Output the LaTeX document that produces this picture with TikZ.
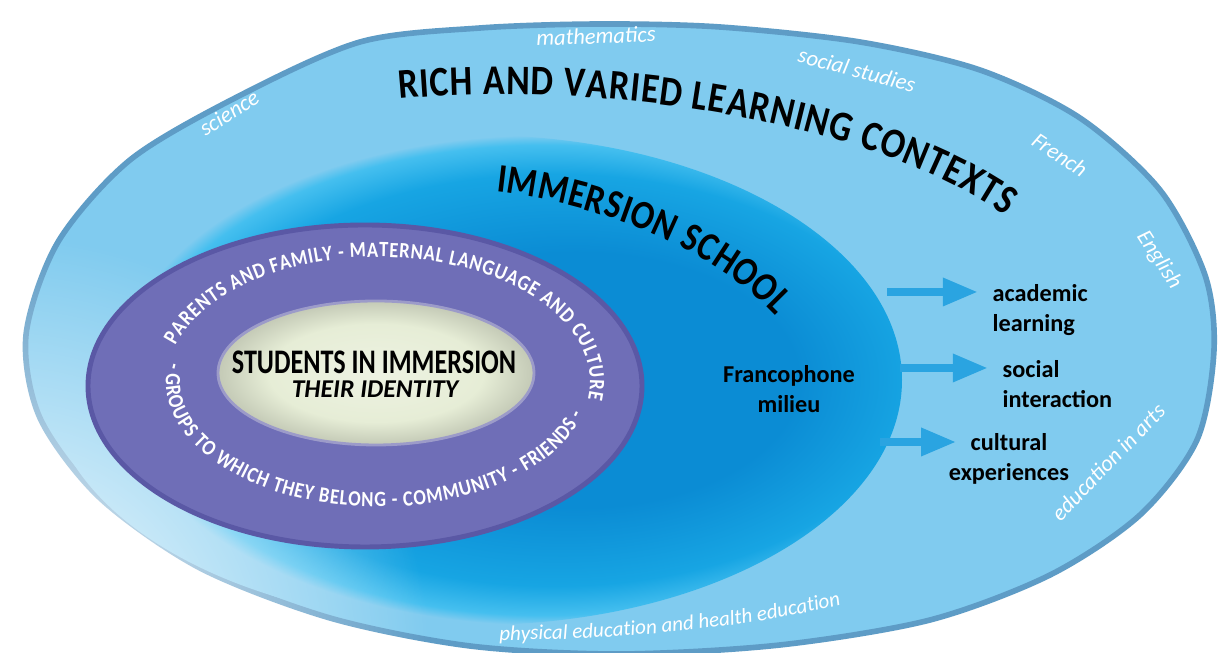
\documentclass[tikz,border=0pt]{standalone}
\usepackage{fontspec}
\setmainfont{Carlito}
\newfontfamily\headfont[FakeStretch=0.85]{Carlito}
\newfontfamily\corefont[FakeStretch=0.76]{Carlito}
\usetikzlibrary{decorations.text,arrows.meta,fadings}

\definecolor{outerblue}{HTML}{80CBEF}
\definecolor{outerrim}{HTML}{5E9CC6}
\definecolor{schooldeep}{HTML}{0B8CD4}
\definecolor{schoolmid}{HTML}{17A5E3}
\definecolor{schoolrim}{HTML}{45BFEF}
\definecolor{ringpurple}{HTML}{6F6EB7}
\definecolor{ringedge}{HTML}{5A58A5}
\definecolor{corecream}{HTML}{E6EDD6}
\definecolor{arrowblue}{HTML}{2AA4E1}

\pgfdeclareradialshading{schoolshade}{\pgfpoint{8bp}{0bp}}{color(0bp)=(schooldeep); color(13bp)=(schooldeep); color(21bp)=(schoolmid); color(24bp)=(schoolrim); color(25bp)=(outerblue); color(50bp)=(outerblue)}
\pgfdeclareradialshading{coreshade}{\pgfpoint{0bp}{0bp}}{color(0bp)=(corecream!70!white); color(17bp)=(corecream); color(25bp)=(corecream!85!black); color(50bp)=(corecream!85!black)}
\tikzfading[name=glowfade, inner color=transparent!0, outer color=transparent!100]

\begin{document}
\begin{tikzpicture}[x=0.1mm, y=0.1mm,
    every node/.style={inner sep=0pt, font=\bfseries\fontsize{6.9}{8.5}\selectfont},
    subject/.style={text=white, font=\itshape\fontsize{6.4}{7.5}\selectfont},
    bigarrow/.style={color=arrowblue, line width=2.3pt, -{Triangle[length=10pt, width=7.5pt, fill=arrowblue]}}]
    \useasboundingbox (0,0) rectangle (1222,-653);
    \fill[white] (0,0) rectangle (1222,-653);

    \draw[outerrim, line width=1.6pt, fill=outerblue] plot[smooth cycle] coordinates {(237,-97) (360,-42) (480,-28) (600,-24) (720,-27) (860,-42) (980,-70) (1080,-118) (1160,-190) (1205,-275) (1214,-350) (1197,-440) (1140,-515) (1050,-575) (930,-620) (780,-645) (620,-654) (470,-646) (330,-618) (200,-568) (100,-498) (40,-418) (26,-335) (58,-242) (130,-160)};
    \shade[shading=schoolshade] (475,-380) ellipse [x radius=427, y radius=245];
    \fill[white, path fading=glowfade] (0,-665) circle (430);
    \draw[ringedge, line width=1.4pt, fill=ringpurple] (365,-386) ellipse [x radius=277, y radius=161];
    \shadedraw[shading=coreshade, draw=ringedge!60!white, line width=0.8pt] (376,-373) ellipse [x radius=158, y radius=72];

    \path[decorate, decoration={text along path, text align={fit to path}, text={|\headfont\bfseries\fontsize{12}{14}\selectfont|RICH AND VARIED LEARNING CONTEXTS}}] (399,-99) .. controls (600,-80) and (870,-120) .. (1005,-216);
    \path[decorate, decoration={text along path, text align={fit to path}, text={|\headfont\bfseries\fontsize{11.5}{13}\selectfont|IMMERSION SCHOOL}}] (496,-192) .. controls (570,-200) and (700,-235) .. (776,-316);
    \path[decorate, decoration={text along path, text align={fit to path}, text={|\headfont\bfseries\color{white}\fontsize{6.2}{7}\selectfont|PARENTS AND FAMILY - MATERNAL LANGUAGE AND CULTURE}}] (175.3,-345.5) arc[start angle=163, end angle=-8, x radius=212, y radius=125];
    \path[decorate, decoration={text along path, text align={fit to path}, text={|\headfont\bfseries\color{white}\fontsize{6.2}{7}\selectfont|- GROUPS TO WHICH THEY BELONG - COMMUNITY - FRIENDS -}}] (168.6,-362.4) arc[start angle=171, end angle=345, x radius=212, y radius=125];
    \path[decorate, decoration={text along path, text align=center, text={|\color{white}\itshape\fontsize{6}{7}\selectfont|physical education and health education}}] (482,-640) .. controls (600,-642) and (760,-628) .. (858,-600);

    \node[font=\corefont\bfseries\fontsize{9.8}{11}\selectfont] (students) at (374,-362) {STUDENTS IN IMMERSION};
    \node[font=\bfseries\itshape\fontsize{7.3}{9}\selectfont] (identity) at (375,-389) {THEIR IDENTITY};

    \node[subject, rotate=32] (science) at (229,-113) {science};
    \node[subject, rotate=2] (maths) at (596,-36) {mathematics};
    \node[subject, rotate=-15] (studies) at (857,-70) {social studies};
    \node[subject, rotate=-34] (french) at (1060,-155) {French};
    \node[subject, rotate=-57] (english) at (1159,-260) {English};
    \node[subject, rotate=46] (arts) at (1108,-462) {education in arts};

    \node[align=center] (milieu) at (789,-389) {Francophone\\milieu};
    \node[align=left, anchor=north west] (academic) at (992,-284) {academic\\learning};
    \node[align=left, anchor=north west] (social) at (1002,-360) {social\\interaction};
    \node[align=center, anchor=north] (cultural) at (1009,-433) {cultural\\experiences};

    \coordinate (tail1) at (887,-292);
    \coordinate (tail2) at (900,-368);
    \coordinate (tail3) at (880,-442);

    \draw [bigarrow, shorten >=1.4mm] (tail1) -- (tail1 -| academic.west);
    \draw [bigarrow, shorten >=1.4mm] (tail2) -- (tail2 -| social.west);
    \draw [bigarrow, shorten >=-0.8mm] (tail3) -- (tail3 -| cultural.west);
\end{tikzpicture}
\end{document}
